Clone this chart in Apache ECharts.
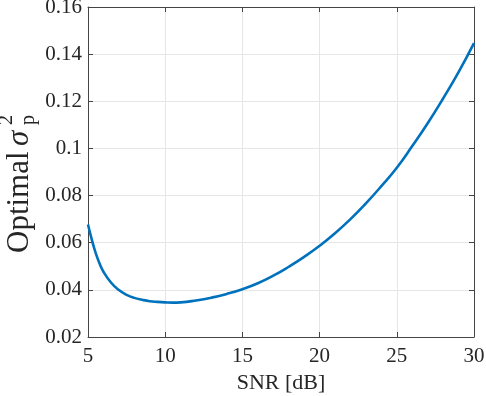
<!DOCTYPE html>
<html>
<head>
<meta charset="utf-8">
<script src="https://cdn.jsdelivr.net/npm/echarts@6/dist/echarts.min.js"></script>
<style>
html,body{margin:0;padding:0;background:#fff;}
#c{width:486px;height:396px;}
</style>
</head>
<body>
<div id="c"></div>
<script>
var snr = [5, 5.25, 5.5, 5.75, 6, 6.5, 7, 7.5, 8, 8.5, 9, 9.5, 10, 10.5, 11, 12, 13, 14, 15, 16, 17, 18, 19, 20, 21, 22, 23, 24, 25, 26, 27, 28, 29, 30];
var sigmaP2 = [0.0677, 0.0612, 0.0556, 0.0512, 0.0477, 0.0430, 0.0399, 0.0379, 0.0366, 0.0358, 0.0352, 0.0349, 0.0347, 0.0346, 0.0347, 0.0355, 0.0367, 0.0383, 0.0403, 0.0428, 0.0460, 0.0498, 0.0540, 0.0587, 0.0640, 0.0700, 0.0767, 0.0840, 0.0918, 0.1010, 0.1107, 0.1212, 0.1324, 0.1447];
var xTicks = [5, 10, 15, 20, 25, 30];
var yTicks = [0.02, 0.04, 0.06, 0.08, 0.1, 0.12, 0.14, 0.16];
var xTitle = 'SNR [dB]';
var yTitle = 'Optimal ';

var chart = echarts.init(document.getElementById('c'), null, {renderer: 'canvas'});
var axisColor = '#444444';
var textColor = '#262626';
var font = 'Liberation Serif';

function axisCommon(showLabel, isX) {
  return {
    type: 'value',
    axisLine: {show: true, onZero: false, lineStyle: {color: axisColor, width: 1}},
    axisTick: {show: true, inside: true, length: 5, lineStyle: {color: axisColor, width: 1}},
    axisLabel: {show: showLabel, color: textColor, fontFamily: font, fontSize: 21, margin: isX ? 9 : 6,
      formatter: function (v) { return '{t|' + String(Math.round(v * 1000) / 1000) + '}'; },
      rich: {t: {fontFamily: font, fontSize: 21, color: textColor}}},
    splitLine: {show: showLabel, lineStyle: {color: '#e6e6e6', width: 1}}
  };
}

var data = snr.map(function (x, i) { return [x, sigmaP2[i]]; });

var xa = axisCommon(true, true);
xa.min = xTicks[0]; xa.max = xTicks[xTicks.length - 1]; xa.interval = 5;
xa.name = xTitle; xa.nameLocation = 'middle'; xa.nameGap = 35;
xa.nameTextStyle = {color: textColor, fontFamily: font, fontSize: 22};
var xa2 = axisCommon(false, true);
xa2.min = xa.min; xa2.max = xa.max; xa2.interval = 5; xa2.position = 'top';

var ya = axisCommon(true, false);
ya.min = yTicks[0]; ya.max = yTicks[yTicks.length - 1]; ya.interval = 0.02;
var ya2 = axisCommon(false, false);
ya2.min = ya.min; ya2.max = ya.max; ya2.interval = 0.02; ya2.position = 'right';

var option = {
  animation: false,
  backgroundColor: '#ffffff',
  textStyle: {fontFamily: font},
  grid: {left: 88, right: 12, top: 7, bottom: 59, containLabel: false, outerBoundsMode: 'none'},
  xAxis: [xa, xa2],
  yAxis: [ya, ya2],
  series: [{
    type: 'line',
    data: data,
    xAxisIndex: 0,
    yAxisIndex: 0,
    showSymbol: false,
    smooth: 0.5,
    lineStyle: {color: '#0072BD', width: 2.6},
    itemStyle: {color: '#0072BD'}
  }],
  graphic: [{
    type: 'group',
    x: 20,
    y: 253,
    rotation: Math.PI / 2,
    children: [
      {type: 'text', x: 0, y: 0, style: {text: yTitle, fill: textColor, font: '31px "Liberation Serif"', align: 'left', verticalAlign: 'middle'}},
      {type: 'text', x: 107, y: 0, style: {text: 'σ', fill: textColor, font: 'italic 31px "Liberation Serif"', align: 'left', verticalAlign: 'middle'}},
      {type: 'text', x: 128, y: -13, style: {text: '2', fill: textColor, font: '20px "Liberation Serif"', align: 'left', verticalAlign: 'middle'}},
      {type: 'text', x: 128, y: 9, style: {text: 'p', fill: textColor, font: '20px "Liberation Serif"', align: 'left', verticalAlign: 'middle'}}
    ]
  }]
};
chart.setOption(option);
</script>
</body>
</html>
